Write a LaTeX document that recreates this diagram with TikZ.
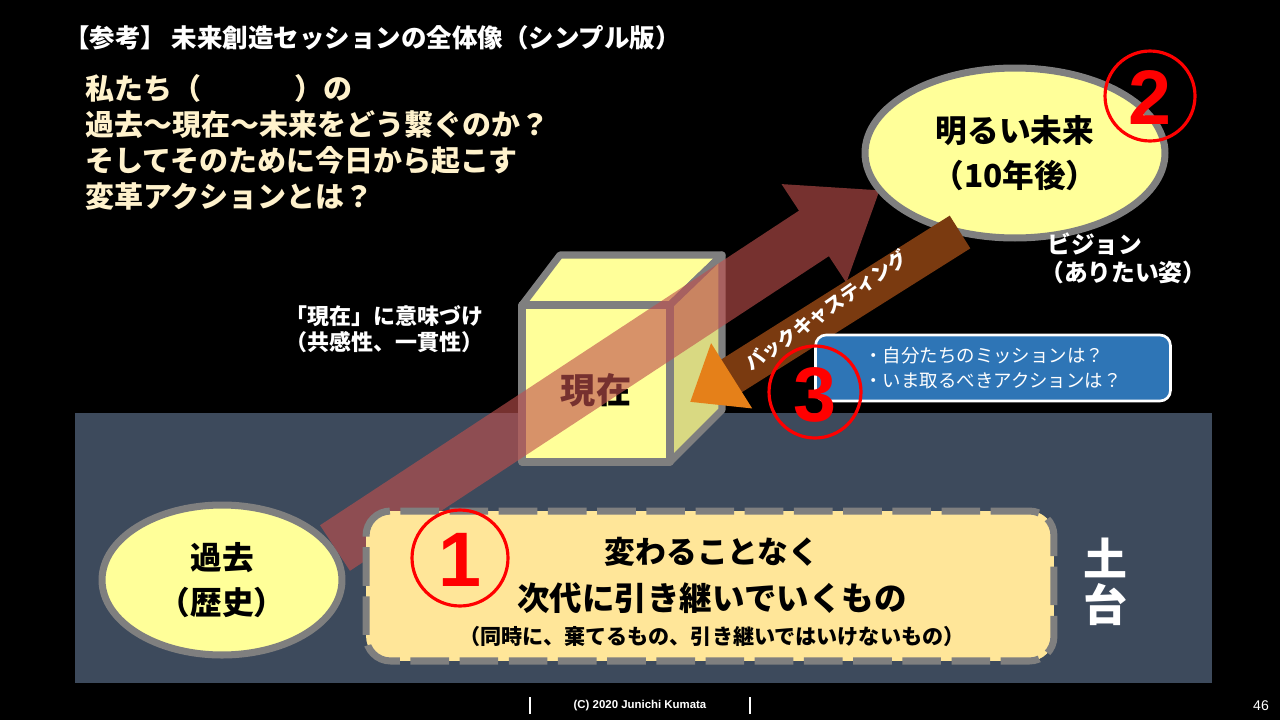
\documentclass[tikz,border=0pt]{standalone}
\usepackage{fontspec}
\setmainfont{Noto Sans CJK JP}
\newfontfamily\numfont{Liberation Sans}
\usetikzlibrary{arrows.meta,shapes.geometric}
\definecolor{pale}{HTML}{FFFF99}
\definecolor{cream}{HTML}{FFF2CC}
\definecolor{band}{HTML}{3D4A5C}
\definecolor{boxy}{HTML}{FFE699}
\definecolor{bord}{HTML}{7F7F7F}
\definecolor{blu}{HTML}{2E75B6}
\definecolor{arr}{HTML}{C0504D}
\definecolor{bca}{HTML}{7A3A10}
\tikzset{
  fsz/.style={font=\fontsize{#1pt}{\dimexpr #1pt*12/10\relax}\selectfont\bfseries},
  efsz/.style={font=\fontsize{#1pt}{\dimexpr #1pt*14/10\relax}\selectfont\bfseries},
  ell/.style={ellipse,fill=pale,draw=bord,line width=4pt,inner sep=0},
  numc/.style={circle,draw=red,line width=1.8pt,minimum size=#1},
  numt/.style={text=red,font=\numfont\fontsize{44}{44}\selectfont\bfseries},
}
\begin{document}
\begin{tikzpicture}[x=0.02cm,y=-0.02cm]
\fill[black] (0,0) rectangle (1280,720);
\useasboundingbox (0,0) rectangle (1280,720);
% title
\node[anchor=west,text=white,fsz=14.5] (title) at (58,38) {【参考】 未来創造セッションの全体像（シンプル版）};
\node[anchor=north west,text=cream,font=\fontsize{16.5pt}{20.5pt}\selectfont\bfseries,align=left,inner sep=0] (q) at (85,74)
 {私たち（\hspace{3.2em}）の\\過去～現在～未来をどう繋ぐのか？\\そしてそのために今日から起こす\\変革アクションとは？};
% band
\fill[band] (75,413) rectangle (1212,683);
% cube
\begin{scope}[draw=bord,line width=4pt,line join=round]
\filldraw[fill=pale] (522,305) -- (560,255) -- (722,255) -- (670,305) -- cycle;
\filldraw[fill=pale!85!black] (670,305) -- (722,255) -- (722,410) -- (670,462) -- cycle;
\filldraw[fill=pale] (522,305) rectangle (670,462);
\end{scope}
\node[fsz=20] (now) at (596,390) {現在};
% ellipses
\node[ell,minimum width=4.8cm,minimum height=3cm,efsz=18,align=center] (past) at (222,580) {過去\\（歴史）};
% main arrow
\coordinate (a1) at (335,548);
\coordinate (a2) at (880,190);
\begin{scope}[transparency group,opacity=0.62]
\draw[line width=31pt,color=arr,-{Triangle[length=45pt,width=64pt]}] (a1) -- (a2);
\end{scope}
\node[ell,minimum width=6cm,minimum height=3.4cm,efsz=18,align=center] (fut) at (1015,153) {明るい未来\\（10年後）};
% backcasting
\coordinate (b1) at (960,232);
\coordinate (b2) at (690,402);
\draw[line width=22pt,color=bca,-{Triangle[length=28pt,width=42pt,color=orange!60!brown]}] (b1) -- (b2);
\node[text=white,fsz=11,rotate=35] (bc) at (826,310) {バックキャスティング};
% blue box
\node[draw=white,line width=1.5pt,fill=blu,rounded corners=6pt,minimum width=7.1cm,minimum height=1.32cm,text=white,font=\fontsize{10.5pt}{14pt}\selectfont,align=left] (mb) at (993,368) {・自分たちのミッションは？\\・いま取るべきアクションは？};
% labels
\node[anchor=north west,text=white,fsz=12.5,align=left,inner sep=0] (imi) at (285,305) {「現在」に意味づけ\\（共感性、一貫性）};
\node[text=white,fsz=13.5,align=left,anchor=north west,inner sep=0] (vis) at (1040,232) {\hspace{0.3em}ビジョン\\（ありたい姿）};
% bottom box
\node[fill=boxy,draw=bord,line width=4pt,dash pattern=on 22pt off 6pt,rounded corners=14pt,minimum width=13.76cm,minimum height=3cm] (base) at (710,586) {};
\node[fsz=17.5] (t1) at (712,552) {変わることなく};
\node[fsz=18.5] (t2) at (712,598) {次代に引き継いでいくもの};
\node[fsz=12] (t3) at (712,636) {（同時に、棄てるもの、引き継いではいけないもの）};
\node[text=white,fsz=25,align=center] (dodai) at (1105,582) {土\\[-4pt]台};
% numbers
\node[numc=1.92cm] (n1) at (460,558) {};
\node[numt] at (460,560) {1};
\node[numc=1.8cm] (n2) at (1150,96) {};
\node[numt] at (1150,98) {2};
\node[numc=1.84cm] (n3) at (815,392) {};
\node[numt] at (815,395) {3};
% footer
\draw[white,line width=0.8pt] (530,697) -- (530,714);
\draw[white,line width=0.8pt] (750,697) -- (750,714);
\node[text=white,font=\numfont\fontsize{6.5pt}{8pt}\selectfont\bfseries] (copy) at (640,706) {(C) 2020 Junichi Kumata};
\node[text=white,font=\numfont\fontsize{8pt}{8pt}\selectfont] (pg) at (1261,706) {46};
\end{tikzpicture}
\end{document}
